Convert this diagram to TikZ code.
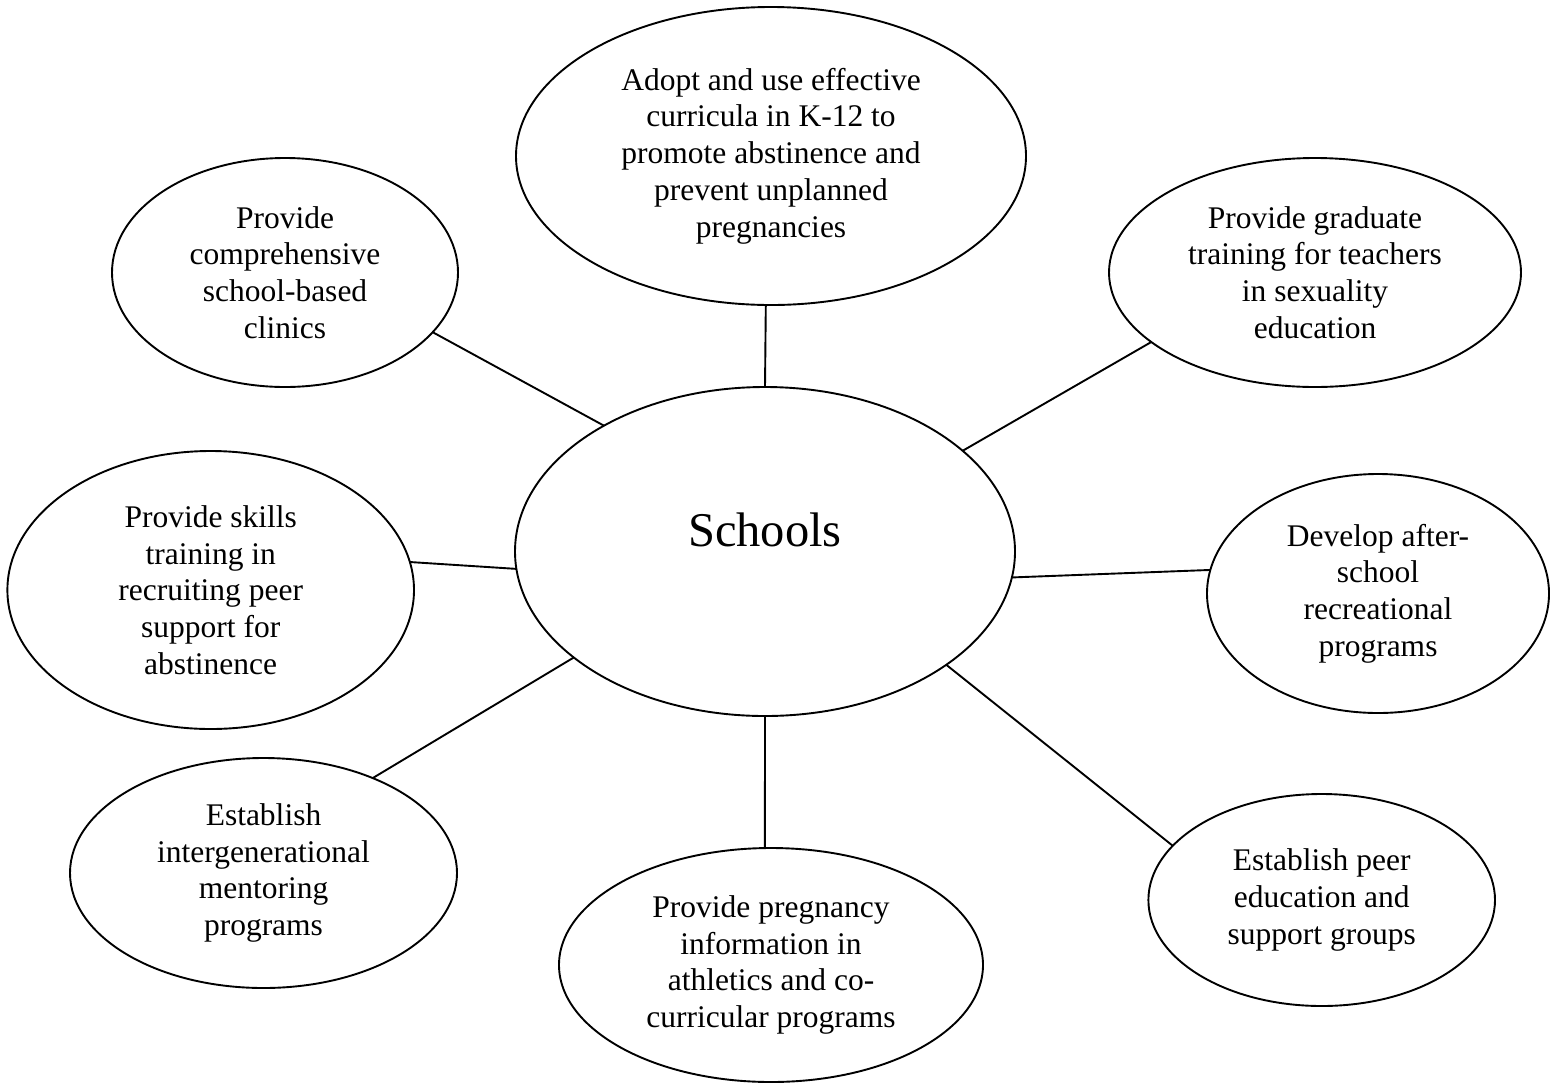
\documentclass[tikz,border=0pt]{standalone}
\usepackage{fontspec}
\setmainfont{Liberation Serif}
\usetikzlibrary{shapes.geometric}
\tikzset{
  bub/.style={draw, ellipse, line width=1.9pt, inner sep=0pt, outer sep=0pt,
    align=center, font=\fontsize{31.5}{36.7}\selectfont},
  link/.style={line width=1.9pt}
}
\begin{document}
\begin{tikzpicture}[x=1pt,y=-1pt]
\useasboundingbox (0,0) rectangle (1550,1085);
\node[bub, minimum width=500, minimum height=329] (c) at (765,551.5)
  {\fontsize{48.5}{56}\selectfont\raisebox{44pt}{Schools}};
\node[bub, minimum width=510, minimum height=298] (t) at (771,156)
  {Adopt and use effective\\curricula in K-12 to\\promote abstinence and\\prevent unplanned\\pregnancies};
\node[bub, minimum width=346, minimum height=229] (tl) at (285,272.5)
  {Provide\\comprehensive\\school-based\\clinics};
\node[bub, minimum width=412, minimum height=229] (tr) at (1315,272.5)
  {Provide graduate\\training for teachers\\in sexuality\\education};
\node[bub, minimum width=406.6, minimum height=278] (l) at (210.7,590)
  {Provide skills\\training in\\recruiting peer\\support for\\abstinence};
\node[bub, minimum width=342, minimum height=239] (r) at (1378,593.5)
  {Develop after-\\school\\recreational\\programs};
\node[bub, minimum width=387, minimum height=230] (bl) at (263.5,873)
  {Establish\\intergenerational\\mentoring\\programs};
\node[bub, minimum width=424, minimum height=234] (b) at (771,965)
  {Provide pregnancy\\information in\\athletics and co-\\curricular programs};
\node[bub, minimum width=346.6, minimum height=212] (br) at (1321.7,900)
  {\raisebox{22pt}{\begin{tabular}{@{}c@{}}Establish peer\\education and\\support groups\end{tabular}}};
\draw[link] (c.90) -- (t.-92);
\draw[link] (c.142) -- (tl.-22);
\draw[link] (c.27) -- (tr.203);
\draw[link] (c.184) -- (l.8);
\draw[link] (c.-6) -- (r.172);
\draw[link] (c.209) -- (bl.41);
\draw[link] (c.-90) -- (b.93);
\draw[link] (c.-32) -- (br.160);
\end{tikzpicture}
\end{document}
